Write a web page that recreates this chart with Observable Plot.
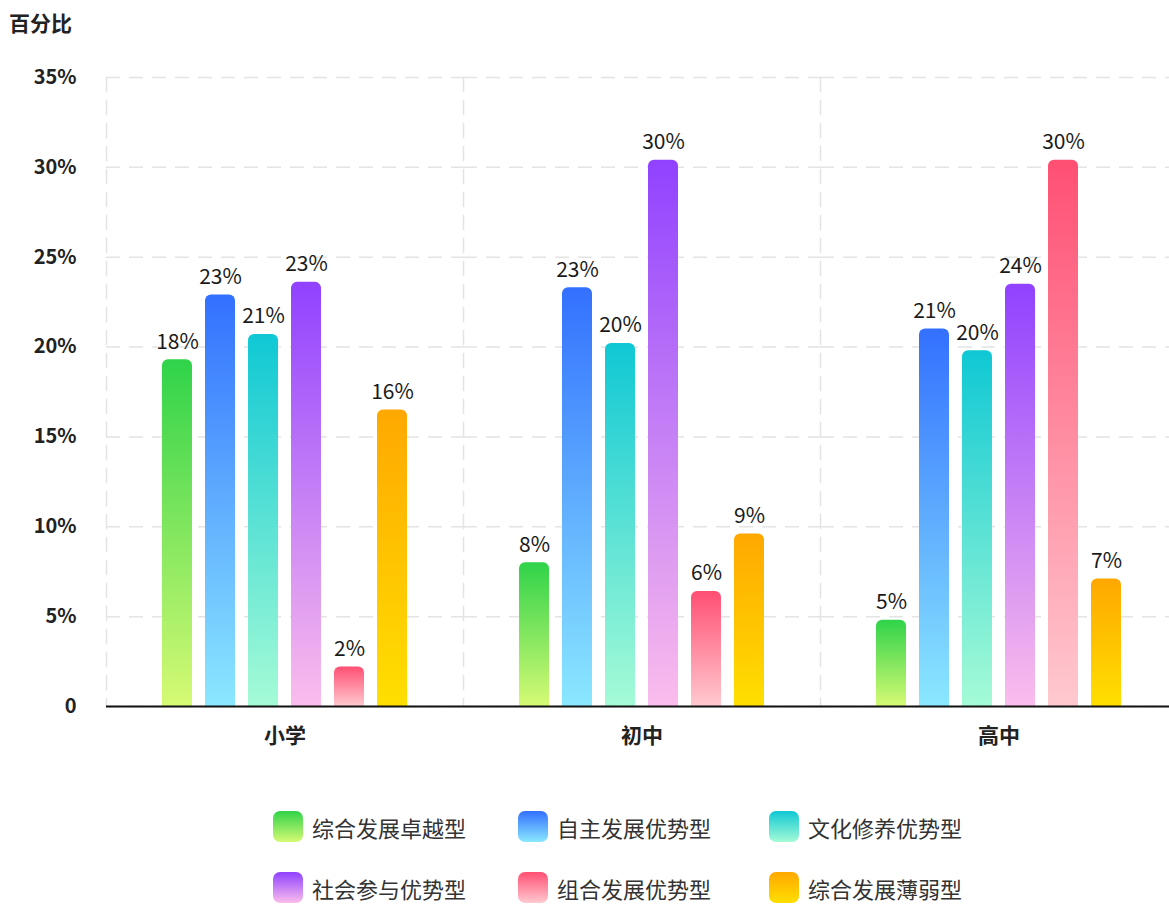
<!DOCTYPE html>
<html>
<head>
<meta charset="utf-8">
<script src="https://cdn.jsdelivr.net/npm/d3@7"></script>
<script src="https://cdn.jsdelivr.net/npm/@observablehq/plot@0.6"></script>
<style>
  html, body { margin: 0; padding: 0; background: #fff; overflow: hidden; }
  body { font-family: "Noto Sans CJK SC", "Noto Sans", sans-serif; }
  #wrap { position: relative; width: 1169px; height: 905px; overflow: hidden; }
  #title { position: absolute; left: 9px; top: 7px; font-size: 21px; font-weight: bold; color: #222; }
  #chart { position: absolute; left: 0; top: 0; width: 1200px; }
  #chart svg { max-width: none !important; }
  .item { position: absolute; display: flex; align-items: center; font-size: 22px; line-height: 1; color: #333; white-space: nowrap; }
  .sw { width: 30px; height: 31px; border-radius: 7px; margin-right: 9px; }
</style>
</head>
<body>
<div id="wrap">
  <svg width="0" height="0" style="position:absolute"><defs id="defs"></defs></svg>
  <div id="chart"></div>
  <div id="title">百分比</div>
  <div id="legend"></div>
</div>
<script>
// ---- data ----
const groups = ["小学", "初中", "高中"];
const series = ["综合发展卓越型", "自主发展优势型", "文化修养优势型", "社会参与优势型", "组合发展优势型", "综合发展薄弱型"];
const values小学 = [19.3, 22.9, 20.7, 23.6, 2.2, 16.5];
const values初中 = [8.0, 23.3, 20.2, 30.4, 6.4, 9.6];
const values高中 = [4.8, 21.0, 19.8, 23.5, 30.4, 7.1];
const labels小学 = ["18%", "23%", "21%", "23%", "2%", "16%"];
const labels初中 = ["8%", "23%", "20%", "30%", "6%", "9%"];
const labels高中 = ["5%", "21%", "20%", "24%", "30%", "7%"];
const yTicks = [0, 5, 10, 15, 20, 25, 30, 35];
const yTickLabels = ["0", "5%", "10%", "15%", "20%", "25%", "30%", "35%"];
// gradient colours (top, bottom) per series
const colorTop = ["#2fd34a", "#3370ff", "#0fc8d4", "#9042ff", "#ff4f73", "#ffa800"];
const colorBottom = ["#d6fa74", "#8ae8ff", "#a5fbd6", "#fbbdec", "#ffc9d0", "#ffdf00"];

// ---- build gradients ----
const defs = document.getElementById("defs");
const NS = "http://www.w3.org/2000/svg";
series.forEach((s, i) => {
  const g = document.createElementNS(NS, "linearGradient");
  g.setAttribute("id", "grad" + i);
  g.setAttribute("x1", "0"); g.setAttribute("y1", "0");
  g.setAttribute("x2", "0"); g.setAttribute("y2", "1");
  const s1 = document.createElementNS(NS, "stop");
  s1.setAttribute("offset", "0"); s1.setAttribute("stop-color", colorTop[i]);
  const s2 = document.createElementNS(NS, "stop");
  s2.setAttribute("offset", "1"); s2.setAttribute("stop-color", colorBottom[i]);
  g.appendChild(s1); g.appendChild(s2);
  defs.appendChild(g);
});

// ---- table ----
const valuesBy = {"小学": values小学, "初中": values初中, "高中": values高中};
const labelsBy = {"小学": labels小学, "初中": labels初中, "高中": labels高中};
const data = [];
groups.forEach(g => series.forEach((s, i) => {
  data.push({group: g, series: s, value: valuesBy[g][i], label: labelsBy[g][i], fill: `url(#grad${i})`});
}));

const gridColor = "#e4e4e4";
const dash = "14,9";

const chart = Plot.plot({
  width: 1178,
  height: 760,
  marginLeft: 105,
  marginRight: 0,
  marginTop: 77,
  marginBottom: 54,
  style: {fontFamily: '"Noto Sans CJK SC", "Noto Sans", sans-serif', background: "transparent", overflow: "visible", maxWidth: "none"},
  fx: {domain: groups, padding: 0, label: null},
  x: {domain: series, paddingInner: 0.31, paddingOuter: 1.26, axis: null},
  y: {domain: [0, 35], label: null},
  color: {type: "identity"},
  marks: [
    Plot.gridY(yTicks, {stroke: gridColor, strokeOpacity: 1, strokeDasharray: dash, strokeWidth: 1.5}),
    Plot.frame({anchor: "left", stroke: gridColor, strokeDasharray: dash, strokeWidth: 1.5}),
    Plot.axisY(yTicks, {tickSize: 0, tickPadding: 30, tickFormat: (d) => yTickLabels[yTicks.indexOf(d)], fontSize: 20, fontWeight: "bold", fill: "#222", label: null}),
    Plot.axisFx({anchor: "bottom", tickSize: 0, tickPadding: 22, fontSize: 21, fontWeight: "bold", fill: "#222", label: null}),
    Plot.barY(data, {fx: "group", x: "series", y: "value", fill: "fill", ry1: 6}),
    Plot.ruleY([0], {stroke: "#111", strokeWidth: 2}),
    Plot.text(data, {fx: "group", x: "series", y: "value", text: "label", dy: -11, lineAnchor: "bottom", fontSize: 21, fill: "#1a1a1a"})
  ]
});
document.getElementById("chart").appendChild(chart);

// ---- legend ----
const legend = document.getElementById("legend");
const legCols = [273, 518, 769];
const legRows = [811, 872];
series.forEach((s, i) => {
  const it = document.createElement("div");
  it.className = "item";
  it.style.left = legCols[i % 3] + "px";
  it.style.top = legRows[Math.floor(i / 3)] + "px";
  const sw = document.createElement("div");
  sw.className = "sw";
  sw.style.background = `linear-gradient(to bottom, ${colorTop[i]}, ${colorBottom[i]})`;
  const tx = document.createElement("span");
  tx.textContent = s;
  it.appendChild(sw); it.appendChild(tx);
  legend.appendChild(it);
});
</script>
</body>
</html>
